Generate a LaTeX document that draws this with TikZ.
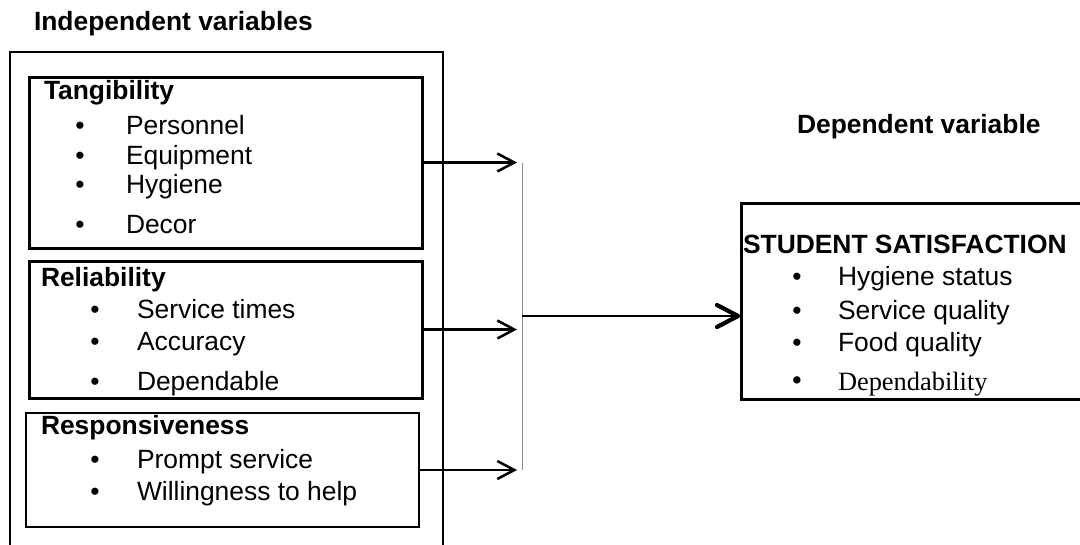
\documentclass[tikz,border=0pt]{standalone}
\usepackage{fontspec}
\setmainfont{Liberation Sans}
\newfontfamily\deptimes{Liberation Serif}
\usetikzlibrary{arrows.meta}
\begin{document}
\begin{tikzpicture}[x=0.75pt,y=-0.75pt,
  every node/.style={inner sep=0pt, outer sep=0pt},
  txt/.style={anchor=base west, font=\fontsize{19.8}{22}\selectfont},
  head/.style={anchor=base west, font=\fontsize{19.8}{22}\selectfont\bfseries},
  dot/.style={anchor=base, font=\fontsize{19.8}{22}\selectfont},
  box/.style={draw, line width=2.25pt, rectangle, anchor=north west},
  feed/.style={line width=1.9pt, -{Straight Barb[length=12.75pt,width=13.5pt]}},
  mainline/.style={line width=1.9pt},
  chevron/.style={line width=3.2pt, line cap=round, line join=round},
  bar/.style={draw=black!45, line width=0.75pt},
]
\useasboundingbox (0,0) rectangle (1080,544);
\clip (0,0) rectangle (1080,544);

% headings
\node[head] (indep) at (34,30) {Independent variables};
\node[head] (depvar) at (797,133) {Dependent variable};

% outer frame of the independent variables (runs off the bottom)
\node[box, line width=2pt, minimum width=324.75pt, minimum height=388.5pt] (frame) at (10,52) {};

% Tangibility
\node[box, minimum width=294.75pt, minimum height=128.25pt] (tang) at (29,77) {};
\node[head] (tangh) at (44,99) {Tangibility};
\node[dot] (tb1) at (80,134) {•}; \node[txt] (t1) at (126,134) {Personnel};
\node[dot] (tb2) at (80,164) {•}; \node[txt] (t2) at (126,164) {Equipment};
\node[dot] (tb3) at (80,193) {•}; \node[txt] (t3) at (126,193) {Hygiene};
\node[dot] (tb4) at (80,233) {•}; \node[txt] (t4) at (126,233) {Decor};

% Reliability
\node[box, minimum width=294.75pt, minimum height=102.75pt] (rel) at (29,261) {};
\node[head] (relh) at (41,286) {Reliability};
\node[dot] (rb1) at (95,318) {•}; \node[txt] (r1) at (137,318) {Service times};
\node[dot] (rb2) at (95,350) {•}; \node[txt] (r2) at (137,350) {Accuracy};
\node[dot] (rb3) at (95,390) {•}; \node[txt] (r3) at (137,390) {Dependable};

% Responsiveness
\node[box, line width=1.8pt, minimum width=294.75pt, minimum height=85.5pt] (resp) at (26,413) {};
\node[head] (resph) at (41,434) {Responsiveness};
\node[dot] (pb1) at (95,468) {•}; \node[txt] (p1) at (137,468) {Prompt service};
\node[dot] (pb2) at (95,500) {•}; \node[txt] (p2) at (137,500) {Willingness to help};

% dependent variable box (runs off the right edge)
\node[box, minimum width=269.25pt, minimum height=147pt] (dep) at (741,203) {};
\node[head] (deph) at (743,253) {STUDENT SATISFACTION};
\node[dot] (db1) at (797,285) {•}; \node[txt] (d1) at (838,285) {Hygiene status};
\node[dot] (db2) at (797,319) {•}; \node[txt] (d2) at (838,319) {Service quality};
\node[dot] (db3) at (797,351) {•}; \node[txt] (d3) at (838,351) {Food quality};
\node[dot, font=\deptimes\fontsize{23}{25}\selectfont] (db4) at (797,390) {•};
\node[txt, font=\deptimes\fontsize{19.8}{22}\selectfont] (d4) at (838,390) {Dependability};

% connectors
\coordinate (tipx) at (517,0);
\coordinate (barx) at (522,0);
\coordinate (join) at (522,316);
\draw[feed] (tang.east) -- (tang.east -| tipx);
\draw[feed] (rel.east) -- (rel.east -| tipx);
\draw[feed] (resp.east) -- (resp.east -| tipx);
\draw[bar] (tang.east -| barx) -- (resp.east -| barx);
% main connector with a heavy open head touching the box
\coordinate (tip) at ([xshift=-2.25pt]join -| dep.west);
\draw[mainline] (join) -- (tip);
\draw[chevron] (tip) ++(-21,-11) -- (tip) -- ++(-21,11);
\end{tikzpicture}
\end{document}
